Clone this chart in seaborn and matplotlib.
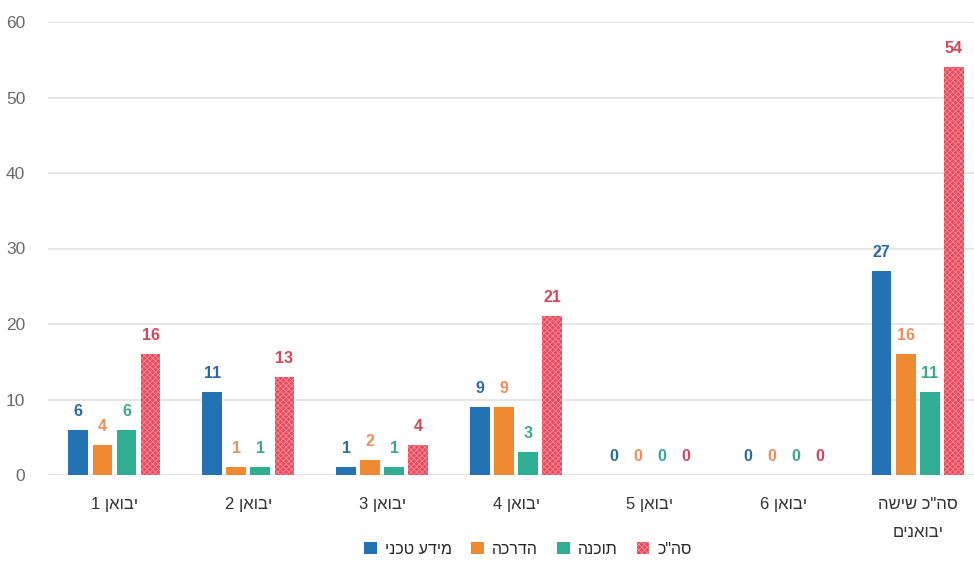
import matplotlib
matplotlib.use("Agg")
import matplotlib.pyplot as plt
import seaborn as sns
import pandas as pd
from matplotlib.patches import Patch

# Data
groups = ["יבואן 1", "יבואן 2", "יבואן 3", "יבואן 4", "יבואן 5", "יבואן 6", "סה\"כ שישה\nיבואנים"]
series = ["מידע טכני", "הדרכה", "תוכנה", "סה\"כ"]
tech_info = [6, 11, 1, 9, 0, 0, 27]
training = [4, 1, 2, 9, 0, 0, 16]
software = [6, 1, 1, 3, 0, 0, 11]
total = [16, 13, 4, 21, 0, 0, 54]
y_ticks = [0, 10, 20, 30, 40, 50, 60]

bar_colors = ["#2272b4", "#f08a32", "#2fae94", "#e84a5c"]
label_colors = ["#2a6aa3", "#ec8f5a", "#3aa88c", "#d4475a"]


def visual(text):
    """Hebrew text laid out right-to-left, line by line."""
    return "\n".join(line[::-1] for line in text.split("\n"))


sns.set_theme(style="white")
plt.rcParams["font.family"] = ["Liberation Sans", "DejaVu Sans"]
plt.rcParams["hatch.linewidth"] = 0.6

values = [tech_info, training, software, total]
rows = []
for s, vals in zip(series, values):
    for g, v in zip(groups, vals):
        rows.append({"group": visual(g), "series": s, "value": v})
df = pd.DataFrame(rows)

fig = plt.figure(figsize=(9.74, 5.63), dpi=100)
ax = fig.add_axes([47.5 / 974, 88 / 563, (974 - 47.5) / 974, 453 / 563])

sns.barplot(data=df, x="group", y="value", hue="series", hue_order=series,
            palette=bar_colors, width=0.72, gap=0.18, ax=ax, legend=False,
            linewidth=0, saturation=1)

# dotted texture on the totals
for patch in ax.containers[3]:
    patch.set_hatch("xxxxxx")
    patch.set_edgecolor("#f58a98")
    patch.set_linewidth(0)

for cont, col in zip(ax.containers, label_colors):
    ax.bar_label(cont, labels=[f"{int(b.get_height())}" for b in cont],
                 padding=8, color=col, fontsize=11.5, fontweight="bold")

ax.set_ylim(0, 60)
ax.set_xlim(-0.5, 6.42)
ax.set_yticks(y_ticks)
ax.yaxis.grid(True, color="#e3e3e3", linewidth=1.2)
ax.set_axisbelow(True)
for sp in ax.spines.values():
    sp.set_visible(False)
ax.tick_params(axis="y", length=0, pad=16, labelsize=12.5, labelcolor="#6a6a6a")
ax.tick_params(axis="x", length=0, pad=16, labelsize=12, labelcolor="#333333")
for lbl in ax.get_xticklabels():
    lbl.set_linespacing(2.05)
ax.set_xlabel("")
ax.set_ylabel("")

handles = [Patch(facecolor=c, edgecolor=c, linewidth=0) for c in bar_colors]
handles[3] = Patch(facecolor=bar_colors[3], edgecolor="#f58a98", hatch="xxxxxx", linewidth=0)
ax.legend(handles, [visual(s) for s in series], ncol=4, loc="center",
          bbox_to_anchor=((528 - 47.5) / 926.5, -74 / 453), frameon=False,
          fontsize=11.5, handlelength=0.8, handleheight=0.8, handletextpad=0.5,
          columnspacing=1.2)

fig.savefig("out.png", dpi=100)
